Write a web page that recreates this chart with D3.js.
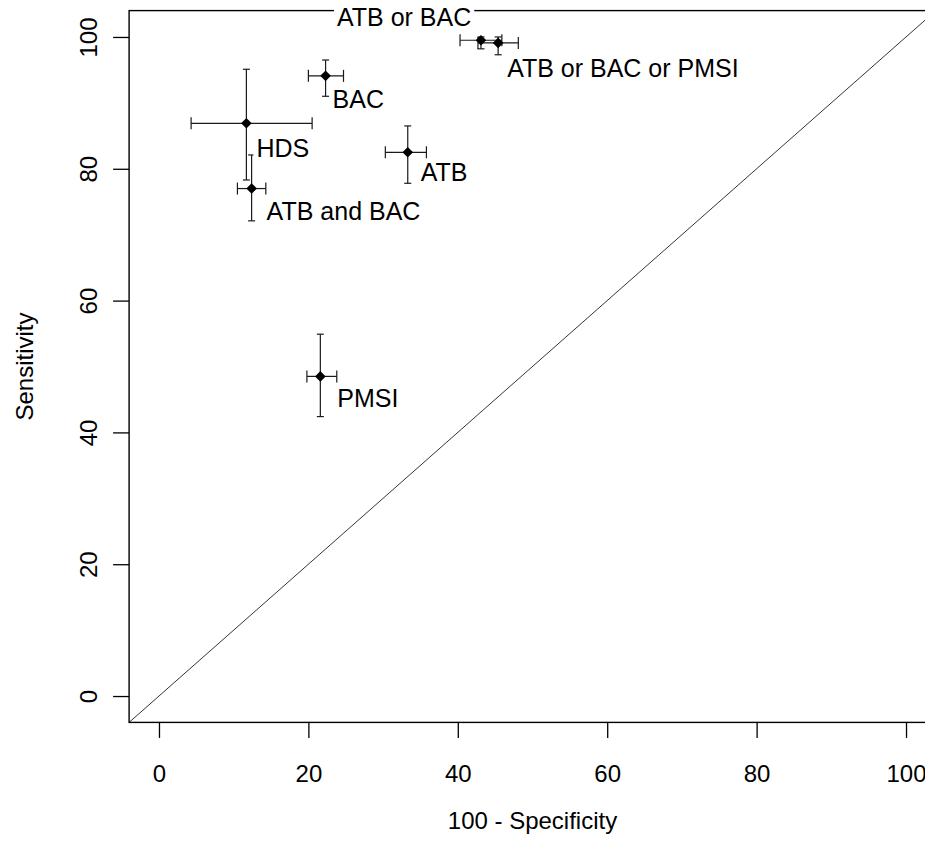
<!DOCTYPE html>
<html>
<head>
<meta charset="utf-8">
<script src="https://cdn.jsdelivr.net/npm/d3@7"></script>
<style>
  html, body { margin: 0; padding: 0; background: #fff; }
  svg { display: block; font-family: "Liberation Sans", Arial, sans-serif; }
</style>
</head>
<body>
<svg id="chart" width="925" height="848"></svg>
<script>
// ---- data ----
const labels   = ["ATB or BAC", "ATB or BAC or PMSI", "BAC", "HDS", "ATB", "ATB and BAC", "PMSI"];
const fpr      = [43.1, 45.4, 22.3, 11.7, 33.3, 12.4, 21.6];   // 100 - Specificity
const fprLow   = [40.3, 42.7, 20.0,  4.3, 30.3, 10.5, 19.8];
const fprHigh  = [45.9, 48.1, 24.7, 20.5, 35.8, 14.3, 23.8];
const sens     = [99.5, 99.1, 94.1, 86.9, 82.5, 77.0, 48.5];   // Sensitivity
const sensLow  = [98.2, 97.3, 91.0, 78.3, 77.8, 72.1, 42.4];
const sensHigh = [100,  100,  96.5, 95.1, 86.5, 82.1, 54.9];
const xTicks = [0, 20, 40, 60, 80, 100];
const yTicks = [0, 20, 40, 60, 80, 100];
const xTitle = "100 - Specificity";
const yTitle = "Sensitivity";

// label placement (pixel offsets from the point: left edge, baseline)
const labelDx = [-144, 9, 7, 10, 13, 15, 17];
const labelDy = [-14, 34, 32, 34, 29, 31, 31];

// ---- layout ----
const svg = d3.select("#chart");
const x = d3.scaleLinear().domain([-4, 104]).range([129.1, 935.9]);
const y = d3.scaleLinear().domain([-4, 104]).range([722.4, 10.6]);
const ink = "#000";

const data = labels.map((l, i) => ({
  label: l, x: fpr[i], xl: fprLow[i], xh: fprHigh[i],
  y: sens[i], yl: sensLow[i], yh: sensHigh[i], dx: labelDx[i], dy: labelDy[i]
}));

// diagonal reference line
svg.append("line")
  .attr("x1", x(-4)).attr("y1", y(-4))
  .attr("x2", x(104)).attr("y2", y(104))
  .attr("stroke", ink).attr("stroke-width", 0.8);

// box
svg.append("rect")
  .attr("x", x(-4)).attr("y", y(104))
  .attr("width", x(104) - x(-4)).attr("height", y(-4) - y(104))
  .attr("fill", "none").attr("stroke", ink).attr("stroke-width", 1.4);

// axes
const xAxis = d3.axisBottom(x).tickValues(xTicks).tickSize(15.5).tickFormat(d3.format("d"));
const gx = svg.append("g").attr("transform", `translate(0,${y(-4)})`).call(xAxis);
gx.select(".domain").remove();
gx.selectAll(".tick line").attr("stroke", ink).attr("stroke-width", 1.3);
gx.selectAll(".tick text").attr("font-size", 24).attr("fill", ink)
  .attr("font-family", "Liberation Sans, Arial, sans-serif").attr("dy", null)
  .attr("y", 60);

const yAxis = d3.axisLeft(y).tickValues(yTicks).tickSize(16).tickFormat(d3.format("d"));
const gy = svg.append("g").attr("transform", `translate(${x(-4)},0)`).call(yAxis);
gy.select(".domain").remove();
gy.selectAll(".tick line").attr("stroke", ink).attr("stroke-width", 1.3);
gy.selectAll(".tick text")
  .attr("font-size", 24).attr("fill", ink)
  .attr("font-family", "Liberation Sans, Arial, sans-serif")
  .attr("x", null).attr("dy", null)
  .attr("text-anchor", "middle")
  .attr("transform", "translate(-32,0) rotate(-90)");

// axis titles
svg.append("text")
  .attr("x", (x(0) + x(100)) / 2).attr("y", 829)
  .attr("text-anchor", "middle").attr("font-size", 24).attr("fill", ink)
  .text(xTitle);
svg.append("text")
  .attr("transform", `translate(33,${(y(0) + y(100)) / 2}) rotate(-90)`)
  .attr("text-anchor", "middle").attr("font-size", 24).attr("fill", ink)
  .text(yTitle);

// error bars
const g = svg.append("g").attr("stroke", "#1a1a1a").attr("stroke-width", 1.2).attr("fill", "none");
data.forEach(d => {
  const px = x(d.x), py = y(d.y);
  // horizontal
  g.append("line").attr("x1", x(d.xl)).attr("x2", x(d.xh)).attr("y1", py).attr("y2", py);
  g.append("line").attr("x1", x(d.xl)).attr("x2", x(d.xl)).attr("y1", py - 6).attr("y2", py + 6);
  g.append("line").attr("x1", x(d.xh)).attr("x2", x(d.xh)).attr("y1", py - 6).attr("y2", py + 6);
  // vertical
  g.append("line").attr("x1", px).attr("x2", px).attr("y1", y(d.yl)).attr("y2", y(d.yh));
  g.append("line").attr("x1", px - 3.5).attr("x2", px + 3.5).attr("y1", y(d.yl)).attr("y2", y(d.yl));
  g.append("line").attr("x1", px - 3.5).attr("x2", px + 3.5).attr("y1", y(d.yh)).attr("y2", y(d.yh));
});

// points (filled diamonds)
svg.append("g").selectAll("path").data(data).join("path")
  .attr("d", d3.symbol(d3.symbolDiamond2, 72))
  .attr("transform", d => `translate(${x(d.x)},${y(d.y)})`)
  .attr("fill", ink);

// labels with white background
const lg = svg.append("g");
data.forEach(d => {
  const t = lg.append("text")
    .attr("x", x(d.x) + d.dx).attr("y", y(d.y) + d.dy)
    .attr("font-size", 25).attr("fill", ink)
    .text(d.label);
  const bb = t.node().getBBox();
  lg.insert("rect", () => t.node())
    .attr("x", bb.x - 3).attr("y", bb.y + 2)
    .attr("width", bb.width + 6).attr("height", bb.height - 4)
    .attr("fill", "#fff");
});
</script>
</body>
</html>
